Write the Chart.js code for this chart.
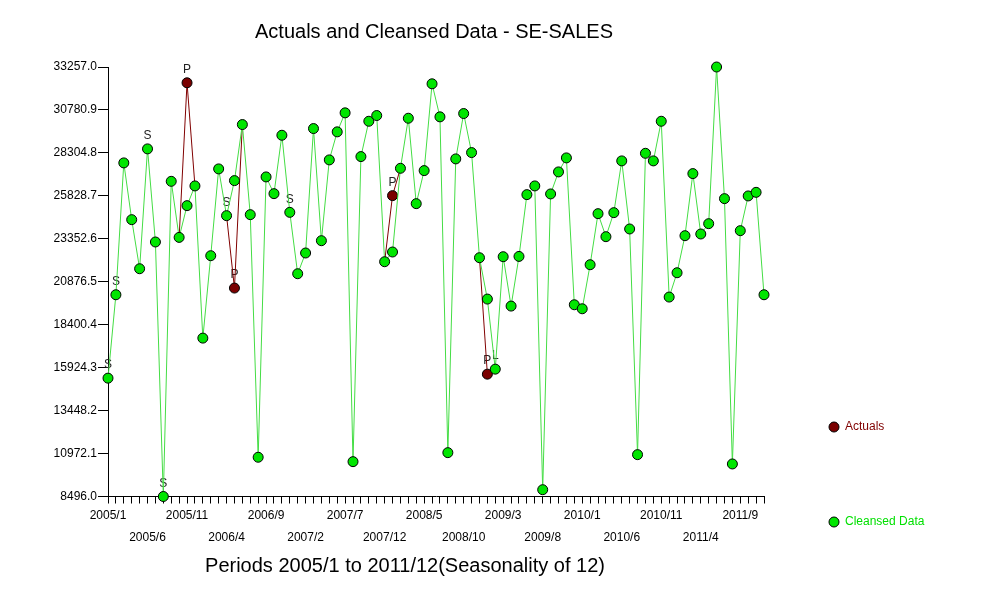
<!DOCTYPE html>
<html>
<head>
<meta charset="utf-8">
<title>Actuals and Cleansed Data - SE-SALES</title>
<script src="https://cdn.jsdelivr.net/npm/chart.js@4/dist/chart.umd.min.js"></script>
<style>
  body { margin: 0; background: #ffffff; }
  #wrap { width: 990px; height: 596px; }
</style>
</head>
<body>
<div id="wrap"><canvas id="chart" width="990" height="596"></canvas></div>
<script>
// Periods 2005/1 .. 2011/12
const years = [2005, 2006, 2007, 2008, 2009, 2010, 2011];
const periods = [];
years.forEach(y => { for (let m = 1; m <= 12; m++) periods.push(y + '/' + m); });

// Cleansed data (green)
const cleansed = [
    15319, 20127, 27728, 24456, 21627, 28536, 23169, 8496, 26666, 23434,
    25264, 26401, 17627, 22378, 27382, 24686, 26707, 29939, 24744, 10759,
    26920, 25956, 29322, 24877, 21339, 22534, 29708, 23243, 27901, 29518,
    30614, 10505, 28092, 30129, 30459, 22031, 22591, 27417, 30303, 25379,
    27284, 32288, 30383, 11024, 27959, 30574, 28323, 22262, 19878, 15838,
    22320, 19474, 22337, 25899, 26401, 8888, 25939, 27209, 28017, 19550,
    19319, 21858, 24802, 23475, 24860, 27844, 23919, 10909, 28282, 27844,
    30129, 19994, 21396, 23532, 27111, 23630, 24225, 33257, 25668, 10372,
    23821, 25824, 26031, 20127
];

// Actuals (dark red) - same as cleansed except where a value was corrected
const actuals = [
    15319, 20127, 27728, 24456, 21627, 28536, 23169, 8496, 26666, 23434,
    32346, 26401, 17627, 22378, 27382, 24686, 20513, 29939, 24744, 10759,
    26920, 25956, 29322, 24877, 21339, 22534, 29708, 23243, 27901, 29518,
    30614, 10505, 28092, 30129, 30459, 22031, 25841, 27417, 30303, 25379,
    27284, 32288, 30383, 11024, 27959, 30574, 28323, 22262, 15549, 15838,
    22320, 19474, 22337, 25899, 26401, 8888, 25939, 27209, 28017, 19550,
    19319, 21858, 24802, 23475, 24860, 27844, 23919, 10909, 28282, 27844,
    30129, 19994, 21396, 23532, 27111, 23630, 24225, 33257, 25668, 10372,
    23821, 25824, 26031, 20127
];

// flags written above points (S = seasonal, P = promo ...)
const noteIndex = [0, 1, 5, 7, 15, 23, 10, 16, 36, 48, 49];
const noteText  = ['S', 'S', 'S', 'S', 'S', 'S', 'P', 'P', 'P', 'P', 'L'];

// y axis tick values
const yTicks = [8496.0, 10972.1, 13448.2, 15924.3, 18400.4, 20876.5,
                23352.6, 25828.7, 28304.8, 30780.9, 33257.0];

const mainTitle = 'Actuals and Cleansed Data - SE-SALES';
const xTitle = 'Periods 2005/1 to 2011/12(Seasonality of 12)';

const FONT = '"Liberation Sans", Arial, sans-serif';
const ACT_COLOR = '#7a0000';
const CLN_COLOR = '#00e600';

// actuals only show where they differ from the cleansed value
const differs = i => actuals[i] !== cleansed[i];

// titles, notes and the legend are drawn by hand
const decorPlugin = {
    id: 'decor',
    beforeDatasetsDraw(chart) {
        const ctx = chart.ctx;
        const meta = chart.getDatasetMeta(0);
        ctx.save();
        ctx.font = '12px ' + FONT;
        ctx.fillStyle = '#222222';
        ctx.textAlign = 'center';
        ctx.textBaseline = 'middle';
        noteIndex.forEach((idx, i) => {
            const pt = meta.data[idx];
            ctx.fillText(noteText[i], pt.x, pt.y - 13);
        });
        ctx.restore();
    },
    afterDraw(chart) {
        const ctx = chart.ctx;
        const area = chart.chartArea;
        ctx.save();
        ctx.fillStyle = '#000000';
        ctx.textAlign = 'center';
        ctx.textBaseline = 'middle';
        ctx.font = '20px ' + FONT;
        ctx.fillText(mainTitle, (area.left + area.right) / 2 - 2, 32);
        ctx.fillText(xTitle, (area.left + area.right) / 2 - 31, 566);

        // legend
        const legendY = [427, 522];
        chart.data.datasets.forEach((ds, i) => {
            ctx.beginPath();
            ctx.arc(834, legendY[i], 5, 0, Math.PI * 2);
            ctx.fillStyle = ds.legendMarker;
            ctx.fill();
            ctx.lineWidth = 1;
            ctx.strokeStyle = '#000000';
            ctx.stroke();
            ctx.font = '12px ' + FONT;
            ctx.textAlign = 'left';
            ctx.fillStyle = ds.legendColor;
            ctx.fillText(ds.label, 845, legendY[i]);
        });
        ctx.restore();
    }
};

const ctx = document.getElementById('chart').getContext('2d');
const chart = new Chart(ctx, {
    type: 'line',
    data: {
        labels: periods,
        datasets: [{
            label: 'Actuals',
            data: actuals,
            borderColor: '#800000',
            borderWidth: 1,
            segment: {
                borderColor: c => (differs(c.p0DataIndex) || differs(c.p1DataIndex)) ? '#800000' : 'rgba(0,0,0,0)'
            },
            pointBackgroundColor: ACT_COLOR,
            pointBorderColor: '#000000',
            pointBorderWidth: 1,
            pointRadius: actuals.map((v, i) => differs(i) ? 5 : 0),
            legendMarker: ACT_COLOR,
            legendColor: '#800000',
            tension: 0,
            clip: false,
            order: 1
        }, {
            label: 'Cleansed Data',
            data: cleansed,
            borderColor: '#44dd44',
            borderWidth: 1,
            pointBackgroundColor: CLN_COLOR,
            pointBorderColor: '#000000',
            pointBorderWidth: 1,
            pointRadius: 5,
            legendMarker: CLN_COLOR,
            legendColor: '#00e000',
            tension: 0,
            clip: false,
            order: 0
        }]
    },
    options: {
        responsive: false,
        animation: false,
        layout: { padding: { top: 67, right: 226, left: 0, bottom: 0 } },
        plugins: {
            legend: { display: false },
            title: { display: false },
            tooltip: { enabled: false }
        },
        scales: {
            x: {
                type: 'category',
                offset: false,
                grid: { display: true, drawOnChartArea: false, tickLength: 7, color: '#000000' },
                border: { display: true, color: '#000000', width: 1 },
                ticks: {
                    autoSkip: false,
                    maxRotation: 0,
                    minRotation: 0,
                    padding: 1,
                    color: '#000000',
                    font: { family: FONT, size: 12, lineHeight: 1.85 },
                    callback: function (val, idx) {
                        if (idx % 5 !== 0) return '';
                        const lab = periods[idx];
                        return idx % 10 === 0 ? [lab] : ['', lab];
                    }
                },
                afterFit: function (scale) { scale.height = 99.5; }
            },
            y: {
                min: yTicks[0],
                max: yTicks[yTicks.length - 1],
                grid: { display: true, drawOnChartArea: false, tickLength: 10, color: '#000000' },
                border: { display: true, color: '#000000', width: 1 },
                afterBuildTicks: function (scale) {
                    scale.ticks = yTicks.map(v => ({ value: v }));
                },
                ticks: {
                    padding: 1,
                    color: '#000000',
                    font: { family: FONT, size: 12 },
                    callback: v => Number(v).toFixed(1)
                },
                afterFit: function (scale) { scale.width = 108; }
            }
        }
    },
    plugins: [decorPlugin]
});
</script>
</body>
</html>
